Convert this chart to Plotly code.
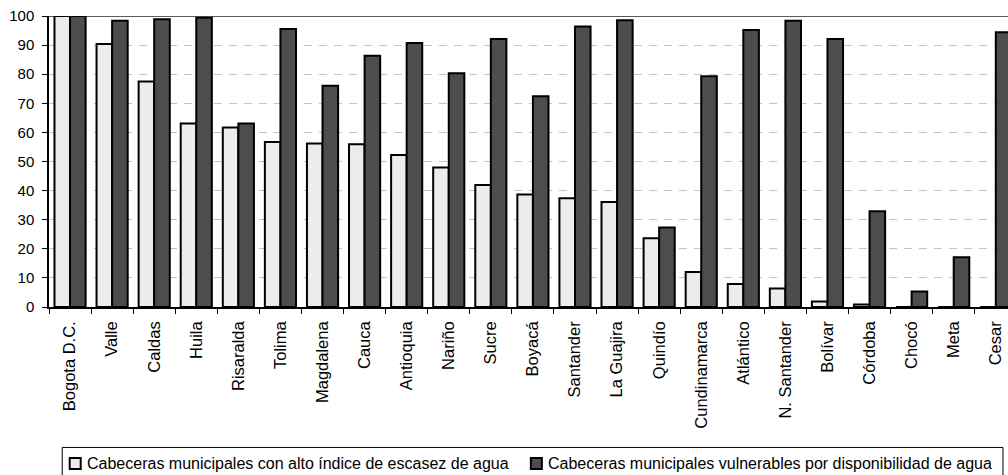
import plotly.graph_objects as go

categories = ["Bogota D.C.", "Valle", "Caldas", "Huila", "Risaralda", "Tolima", "Magdalena",
              "Cauca", "Antioquia", "Nariño", "Sucre", "Boyacá", "Santander", "La Guajira",
              "Quindío", "Cundinamarca", "Atlántico", "N. Santander", "Bolívar", "Córdoba",
              "Chocó", "Meta", "Cesar"]

escasez = [100, 90.4, 77.5, 63.1, 61.7, 56.7, 56.2, 55.9, 52.2, 47.9, 41.9, 38.7, 37.4, 36.1,
           23.6, 12.0, 7.9, 6.4, 1.9, 0.9, 0, 0, 0]

vulnerables = [100, 98.4, 98.9, 99.4, 63.1, 95.5, 76.0, 86.3, 90.7, 80.3, 92.1, 72.4, 96.4, 98.5,
               27.3, 79.3, 95.2, 98.4, 92.1, 32.9, 5.3, 17.1, 94.4]

name1 = "Cabeceras municipales con alto índice de escasez de agua"
name2 = "Cabeceras municipales vulnerables por disponibilidad de agua"

y_ticks = [0, 10, 20, 30, 40, 50, 60, 70, 80, 90, 100]

FONT = "Liberation Sans, Arial, sans-serif"
LIGHT = "#ececec"
DARK = "#4d4d4d"

W, H = 1008, 475
ML, MR, MT = 49.3, 0, 16
MB = H - 306.7
PW = W - ML - MR
PH = H - MT - MB


def px_x(px):
    return (px - ML) / PW


def px_y(py):
    return (H - MB - py) / PH


fig = go.Figure()
fig.add_trace(go.Bar(x=categories, y=escasez, name=name1, showlegend=False,
                     marker=dict(color=LIGHT, line=dict(color="black", width=2))))
fig.add_trace(go.Bar(x=categories, y=vulnerables, name=name2, showlegend=False,
                     marker=dict(color=DARK, line=dict(color="black", width=2))))

# solid top line at 100
fig.add_shape(type="line", xref="paper", yref="y", x0=0, x1=1, y0=100, y1=100,
              line=dict(color="#5a5a5a", width=2), layer="below")

# legend box (drawn manually to match layout)
fig.add_shape(type="rect", xref="paper", yref="paper",
              x0=px_x(62.5), x1=px_x(1003), y0=px_y(447), y1=px_y(480),
              line=dict(color="black", width=1), fillcolor="white")
for sx, col, txt, tx in [(70, LIGHT, name1, 85), (531, DARK, name2, 546)]:
    fig.add_shape(type="rect", xref="paper", yref="paper",
                  x0=px_x(sx), x1=px_x(sx + 11), y0=px_y(457.5), y1=px_y(468.5),
                  line=dict(color="black", width=2), fillcolor=col)
    fig.add_annotation(xref="paper", yref="paper", x=px_x(tx), y=px_y(463),
                       xanchor="left", yanchor="middle", showarrow=False, text=txt,
                       font=dict(size=16, family=FONT, color="black"))

fig.update_layout(
    width=W, height=H,
    margin=dict(l=ML, r=MR, t=MT, b=MB, autoexpand=False),
    paper_bgcolor="white", plot_bgcolor="white",
    barmode="group", bargap=0.26, bargroupgap=0,
    font=dict(family=FONT, color="black"),
    showlegend=False,
    xaxis=dict(type="category", range=[-0.5, 22.29], tickson="boundaries", automargin=False,
               ticks="outside", ticklen=5, tickcolor="black", tickwidth=1,
               showline=True, linecolor="black", linewidth=1.5, ticklabelstandoff=6,
               tickangle=-90, tickfont=dict(size=16.5, family=FONT), showgrid=False),
    yaxis=dict(range=[0, 100], tickvals=y_ticks, ticks="outside", ticklen=5, automargin=False,
               tickcolor="black", showline=True, linecolor="black", linewidth=1.5,
               ticklabelstandoff=5,
               tickfont=dict(size=15, family=FONT), showgrid=True, gridcolor="#c4c4c4",
               griddash="8px,7px", gridwidth=1, zeroline=False),
)

# remove the browser's default 8px body margin so the figure sits at the page origin
fig.write_html("out.html", config={"displayModeBar": False},
               post_script="document.body.style.margin='0';document.body.style.overflow='hidden';")
